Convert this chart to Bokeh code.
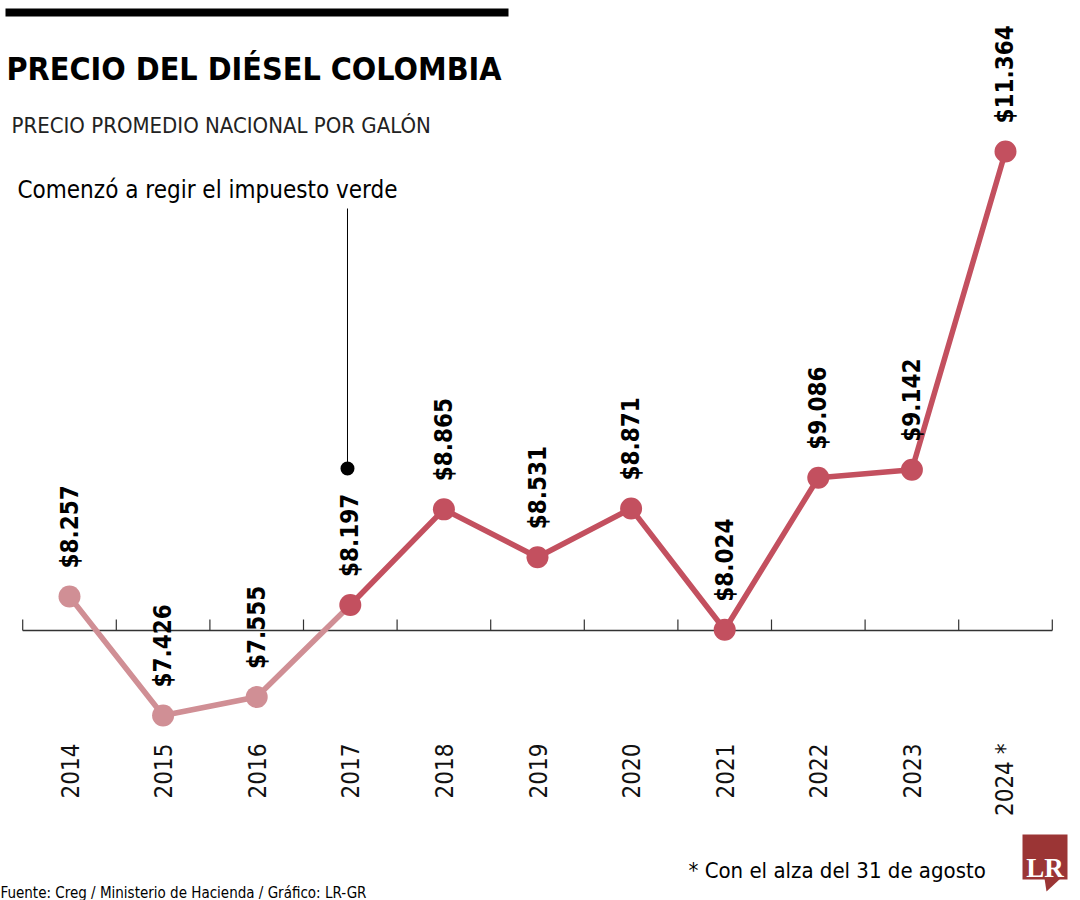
import math
from bokeh.plotting import figure
from bokeh.models import Label, BoxAnnotation, PolyAnnotation, Range1d, ColumnDataSource
from bokeh.core.properties import value
from bokeh.embed import file_html
from bokeh.resources import INLINE

years = ["2014", "2015", "2016", "2017", "2018", "2019", "2020", "2021", "2022", "2023", "2024 *"]
prices = [8257, 7426, 7555, 8197, 8865, 8531, 8871, 8024, 9086, 9142, 11364]
price_labels = ["$8.257", "$7.426", "$7.555", "$8.197", "$8.865", "$8.531", "$8.871",
                "$8.024", "$9.086", "$9.142", "$11.364"]
green_tax_start = 3  # index of 2017

W, H = 1080, 900
FONT = "DejaVu Sans Condensed"
DARK = "#c3505f"
LIGHT = "#d08f95"

YTOP, YBOT = 12418.5, 6133.6
p = figure(width=W, height=H, output_backend="svg", toolbar_location=None,
           x_range=Range1d(-0.7372, 10.8013), y_range=Range1d(YBOT, YTOP),
           min_border=0, outline_line_color=None)
p.axis.visible = False
p.grid.visible = False
p.background_fill_color = "white"
p.border_fill_color = "white"

xs = list(range(len(years)))


def vy(py):
    return YBOT + (H - py) / H * (YTOP - YBOT)


# baseline + tick marks between categories
base = vy(630)
p.segment(x0=[-0.5], y0=[base], x1=[len(years) - 0.5], y1=[base], line_color="#333333", line_width=1.5)
tick_x = [i - 0.5 for i in range(len(years) + 1)]
p.segment(x0=tick_x, y0=[base] * len(tick_x), x1=tick_x, y1=[vy(619)] * len(tick_x),
          line_color="#333333", line_width=1.2)

# light segment 2014-2017
k = green_tax_start
p.line(xs[:k + 1], prices[:k + 1], line_color=LIGHT, line_width=5.5)
p.scatter(xs[:k], prices[:k], size=22, fill_color=LIGHT, line_color=None)
# dark segment 2017-2024
p.line(xs[k:], prices[k:], line_color=DARK, line_width=5.5)
p.scatter(xs[k:], prices[k:], size=22, fill_color=DARK, line_color=None)

# value labels
src = ColumnDataSource(dict(x=xs, y=prices, t=price_labels))
p.text(x="x", y="y", text="t", source=src, angle=math.pi / 2, y_offset=-28, x_offset=0,
       text_align="left", text_baseline="middle", text_font=value(FONT),
       text_font_style="bold", text_font_size="24px", text_color="black")

# year labels
ysrc = ColumnDataSource(dict(x=xs, y=[vy(743)] * len(xs), t=years))
p.text(x="x", y="y", text="t", source=ysrc, angle=math.pi / 2,
       text_align="right", text_baseline="middle", text_font=value(FONT),
       text_font_size="24px", text_color="#111111")

# annotation line for green tax
p.segment(x0=[k - 0.03], y0=[vy(208)], x1=[k - 0.03], y1=[vy(468)], line_color="black", line_width=1)
p.scatter([k - 0.03], [vy(468)], size=14, fill_color="black", line_color=None)


def sx(px):
    return px


def sy(py):
    return H - py


# black bar on top
p.add_layout(BoxAnnotation(left=sx(5), right=sx(508), top=sy(8), bottom=sy(16),
                           left_units="screen", right_units="screen", top_units="screen",
                           bottom_units="screen", fill_color="black", fill_alpha=1, line_color=None))

p.add_layout(Label(x=sx(6), y=sy(68), x_units="screen", y_units="screen",
                   text="PRECIO DEL DIÉSEL COLOMBIA", text_font=FONT, text_font_style="bold",
                   text_font_size="32px", text_color="black", text_baseline="alphabetic"))
p.add_layout(Label(x=sx(11), y=sy(125), x_units="screen", y_units="screen",
                   text="PRECIO PROMEDIO NACIONAL POR GALÓN", text_font=FONT,
                   text_font_size="22px", text_color="#222222", text_baseline="alphabetic"))
p.add_layout(Label(x=sx(17), y=sy(189), x_units="screen", y_units="screen",
                   text="Comenzó a regir el impuesto verde", text_font=FONT,
                   text_font_size="24px", text_color="black", text_baseline="alphabetic"))
p.add_layout(Label(x=sx(688), y=sy(870), x_units="screen", y_units="screen",
                   text="* Con el alza del 31 de agosto", text_font=FONT,
                   text_font_size="22px", text_color="black", text_baseline="alphabetic"))
p.add_layout(Label(x=sx(0), y=sy(892), x_units="screen", y_units="screen",
                   text="Fuente: Creg / Ministerio de Hacienda / Gráfico: LR-GR", text_font=FONT,
                   text_font_size="15px", text_color="black", text_baseline="alphabetic"))

# LR logo
LOGO = "#9b3535"
p.add_layout(BoxAnnotation(left=sx(1022), right=sx(1067), top=sy(834), bottom=sy(879),
                           left_units="screen", right_units="screen", top_units="screen",
                           bottom_units="screen", fill_color=LOGO, fill_alpha=1, line_color=None))
p.add_layout(PolyAnnotation(xs=[sx(1044), sx(1060), sx(1046)], ys=[sy(878), sy(878), sy(891)],
                            xs_units="screen", ys_units="screen", fill_color=LOGO, fill_alpha=1,
                            line_color=None))
p.add_layout(Label(x=sx(1044.5), y=sy(867), x_units="screen", y_units="screen", text="LR",
                   text_font="Liberation Serif", text_font_style="bold", text_font_size="27px",
                   text_color="white", text_align="center", text_baseline="alphabetic"))

open("out.html", "w").write(file_html(p, INLINE))
